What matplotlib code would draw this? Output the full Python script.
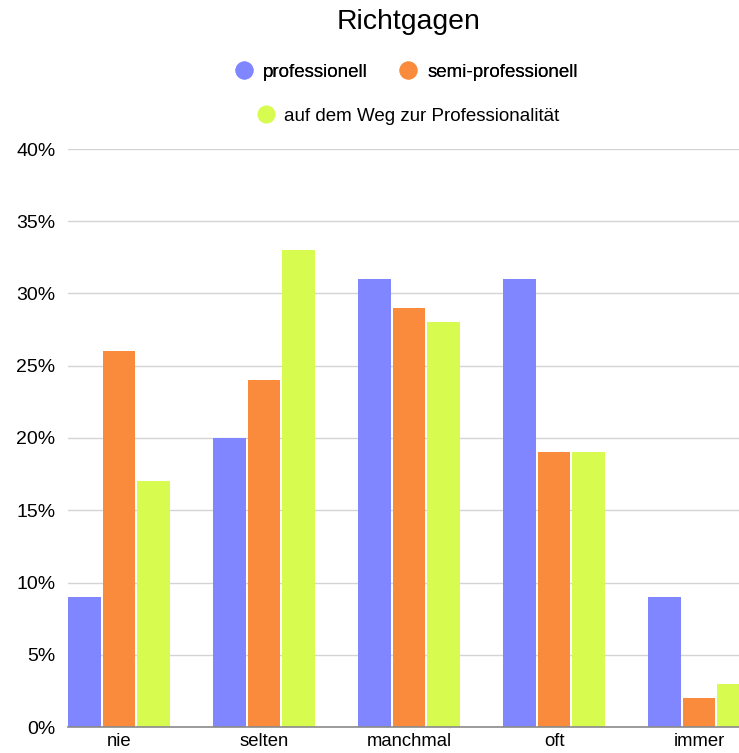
import matplotlib.pyplot as plt
from matplotlib.lines import Line2D
import numpy as np

plt.rcParams['font.family'] = ['Liberation Sans', 'DejaVu Sans']

categories = ['nie', 'selten', 'manchmal', 'oft', 'immer']
series_names = ['professionell', 'semi-professionell', 'auf dem Weg zur Professionalität']
professionell = [9, 20, 31, 31, 9]
semi_professionell = [26, 24, 29, 19, 2]
auf_dem_weg = [17, 33, 28, 19, 3]
colors = ['#7f86ff', '#fb8b3c', '#d8fb4f']

W, H = 739, 753
fig = plt.figure(figsize=(W / 100, H / 100), dpi=100)
ax = fig.add_axes([68 / W, 1 - 727 / H, 1 - 68 / W, (727 - 149) / H])

x = np.arange(len(categories))
step = 0.238
width = 0.226
for i, (vals, c) in enumerate(zip([professionell, semi_professionell, auf_dem_weg], colors)):
    ax.bar(x + (i - 1) * step, vals, width=width, color=c, zorder=3)

ax.set_xlim(-0.352, (739 - 119) / 145)
ax.set_ylim(0, 40)
ax.set_yticks(range(0, 41, 5))
ax.set_yticklabels([f'{v}%' for v in range(0, 41, 5)])
ax.set_xticks(x)
ax.set_xticklabels(categories)
ax.tick_params(axis='y', length=0, pad=9, labelsize=14)
ax.tick_params(axis='x', length=0, pad=4, labelsize=13.3)
ax.grid(axis='y', color='#d4d4d4', linewidth=1, zorder=0)
for s in ['top', 'right', 'left']:
    ax.spines[s].set_visible(False)
ax.spines['bottom'].set_color('#8a8a8a')
ax.spines['bottom'].set_linewidth(1.2)
ax.spines['bottom'].set_zorder(4)

fig.text(409 / W, 1 - 22 / H, 'Richtgagen', ha='center', va='center', fontsize=20.4)

handles = [Line2D([], [], marker='o', linestyle='', markersize=12, color=c) for c in colors]
leg1 = fig.legend(handles[:2], series_names[:2], loc='center', ncol=2,
                  bbox_to_anchor=(406 / W, 1 - 72 / H), frameon=False, fontsize=13.5,
                  handletextpad=0.5, columnspacing=1.7, handlelength=1.0)
fig.add_artist(leg1)
fig.legend(handles[2:], series_names[2:], loc='center', ncol=1,
           bbox_to_anchor=(408 / W, 1 - 116 / H), frameon=False, fontsize=13.5,
           handletextpad=0.5, handlelength=1.0)

fig.savefig('out.png', dpi=100)
